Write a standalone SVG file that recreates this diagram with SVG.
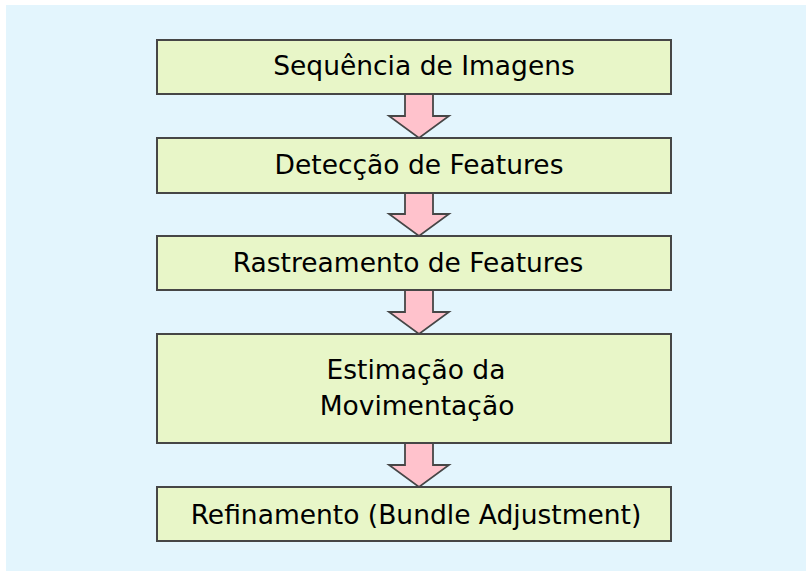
<svg xmlns="http://www.w3.org/2000/svg" width="806" height="571" viewBox="0 0 806 571">
  <style>
    .box { fill: #e8f6c8; stroke: #464646; stroke-width: 2; }
    .arrow { fill: #ffc2cc; stroke: #464646; stroke-width: 1.8; stroke-linejoin: miter; }
    .label { font-family: "DejaVu Sans", sans-serif; font-size: 26.5px; fill: #000; text-anchor: middle; }
  </style>
  <rect x="0" y="0" width="806" height="571" fill="#ffffff"/>
  <rect x="6" y="5" width="800" height="566" fill="#e3f5fd"/>

  <g id="connectors">
    <path class="arrow" d="M405,94 L433,94 L433,116 L449,116 L419,138 L389,116 L405,116 Z"/>
    <path class="arrow" d="M405,193 L433,193 L433,214 L449,214 L419,236 L389,214 L405,214 Z"/>
    <path class="arrow" d="M405,290 L433,290 L433,312 L449,312 L419,334 L389,312 L405,312 Z"/>
    <path class="arrow" d="M405,443 L433,443 L433,465 L449,465 L419,487 L389,465 L405,465 Z"/>
  </g>

  <g id="node-sequencia">
    <rect class="box" x="157" y="40" width="514" height="54"/>
    <text class="label" x="424" y="75">Sequência de Imagens</text>
  </g>
  <g id="node-deteccao">
    <rect class="box" x="157" y="138" width="514" height="55"/>
    <text class="label" x="419" y="174">Detecção de Features</text>
  </g>
  <g id="node-rastreamento">
    <rect class="box" x="157" y="236" width="514" height="54"/>
    <text class="label" x="408" y="272">Rastreamento de Features</text>
  </g>
  <g id="node-estimacao">
    <rect class="box" x="157" y="334" width="514" height="109"/>
    <text class="label" x="416" y="379">Estimação da</text>
    <text class="label" x="417" y="415">Movimentação</text>
  </g>
  <g id="node-refinamento">
    <rect class="box" x="157" y="487" width="514" height="54"/>
    <text class="label" x="416" y="524">Refinamento (Bundle Adjustment)</text>
  </g>
</svg>
